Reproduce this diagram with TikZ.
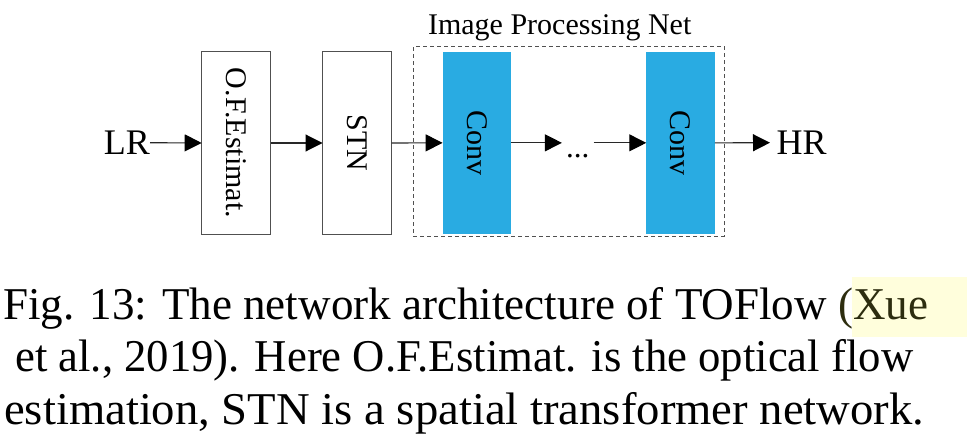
\documentclass[tikz,border=0pt]{standalone}
\usepackage{fontspec}
\setmainfont{Liberation Serif}
\usetikzlibrary{arrows.meta}
\definecolor{convblue}{RGB}{41,171,226}
\definecolor{hlyellow}{RGB}{255,254,220}
\definecolor{xueolive}{RGB}{45,45,15}
\definecolor{edgegray}{RGB}{80,80,80}
\definecolor{linegray}{RGB}{40,40,40}
\begin{document}
\begin{tikzpicture}[x=1pt,y=-1pt,
  blk/.style={draw=edgegray, line width=1.3pt, fill=white, minimum width=69pt, minimum height=182.5pt, inner sep=0pt, outer sep=0pt},
  convblk/.style={fill=convblue, draw=none, minimum width=68.5pt, minimum height=182.5pt, inner sep=0pt, outer sep=0pt},
  vtext/.style={font=\fontsize{30}{31}\selectfont},
  conn/.style={draw=linegray, line width=1.1pt, -{Triangle[length=17pt,width=17pt,black]}},
  lbl/.style={font=\fontsize{36}{37}\selectfont, inner sep=0pt},
  captext/.style={font=\fontsize{45.5}{46}\selectfont, anchor=base west, inner sep=0pt},
]
\useasboundingbox (0,0) rectangle (967,441);
% frame of the image processing net
\node[draw=edgegray, dash pattern=on 4pt off 3pt, line width=1pt, minimum width=311pt, minimum height=189.3pt, inner sep=0pt] (ipn) at (568.8,141.35) {};
\node[anchor=base, font=\fontsize{30}{31}\selectfont, inner sep=0pt] (title) at (559.7,34.3) {Image Processing Net};
% blocks
\node[blk, vtext] (of) at (236.2,143) {\rotatebox{-90}{O.F.Estimat.}};
\node[blk, vtext] (stn) at (357,143) {\rotatebox{-90}{STN}};
\node[convblk, vtext] (c1) at (476.85,142.85) {\rotatebox{-90}{Conv}};
\node[convblk, vtext] (c2) at (680.5,142.85) {\rotatebox{-90}{Conv}};
\node[lbl, anchor=east] (lr) at (150,142.7) {LR};
\node[lbl, anchor=west, inner xsep=6.5pt] (hr) at (770,142.7) {HR};
\node[font=\fontsize{31}{32}\selectfont, anchor=base, inner xsep=4pt, inner ysep=0pt] (dots) at (577.7,157.7) {...};
% connectors
\draw[conn] (lr.east) -- (of.west);
\draw[conn] (of.east) -- (stn.west);
\draw[conn] (stn.east) -- (c1.west);
\draw[conn] (c1.east) -- (c1.east -| dots.west);
\draw[conn] (c2.west -| dots.east) -- (c2.west);
\draw[conn] (c2.east) -- (hr.west);
% caption
\fill[hlyellow] (851.7,277) rectangle (967,337);
\node[captext] (cap1) at (3,319) {\resizebox{925pt}{\height}{Fig. 13: The network architecture of TOFlow \textcolor{xueolive}{(Xue}}};
\node[captext] (cap2) at (15,371.7) {\resizebox{898pt}{\height}{et al., 2019). Here O.F.Estimat. is the optical flow}};
\node[captext] (cap3) at (4,424) {\resizebox{920pt}{\height}{estimation, STN is a spatial transformer network.}};
\end{tikzpicture}
\end{document}
